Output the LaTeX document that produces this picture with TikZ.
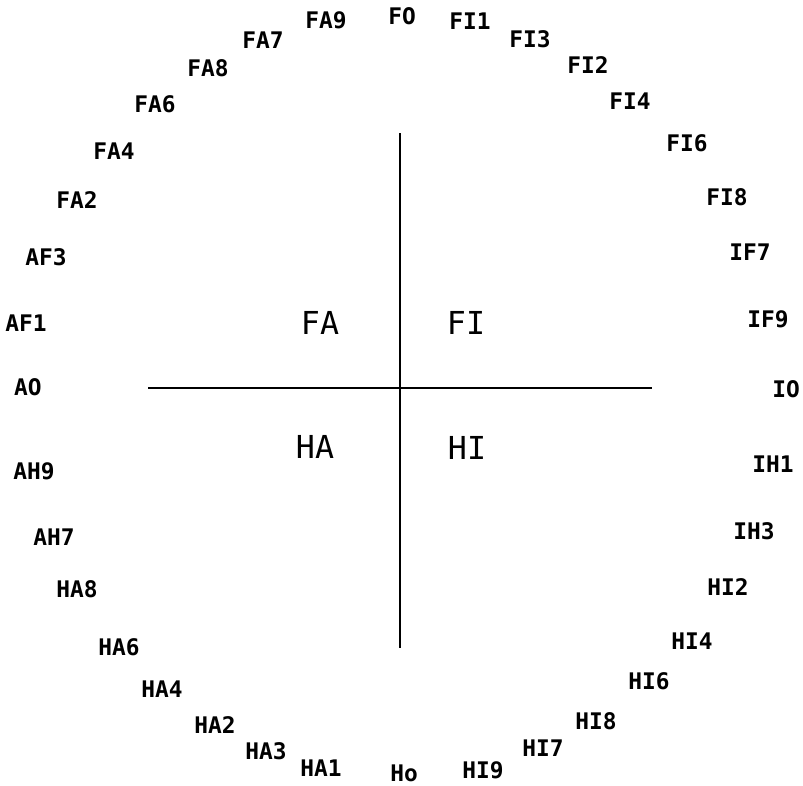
\documentclass[tikz,border=0pt]{standalone}
\usepackage{fontspec}
\setmainfont{DejaVu Sans Mono}
\tikzset{
  ringlabel/.style={
    font=\fontsize{13}{13}\selectfont\bfseries,
    inner sep=0pt
  },
  quadlabel/.style={
    font=\fontsize{18}{18}\selectfont,
    inner sep=0pt
  },
  axisline/.style={line width=1.2pt,draw=black}
}

\begin{document}
\begin{tikzpicture}[x=0.02cm,y=-0.02cm]
\useasboundingbox (0,0) rectangle (803,785);
% axes
\coordinate (top) at (400,133);
\coordinate (bottom) at (400,648);
\coordinate (left) at (148,388);
\coordinate (right) at (652,388);
\draw[axisline] (top) -- (bottom);
\draw[axisline] (left) -- (right);
% quadrants
\node[quadlabel] (fa) at (320,323) {FA};
\node[quadlabel] (fi) at (466,323) {FI};
\node[quadlabel] (ha) at (315,447) {HA};
\node[quadlabel] (hi) at (467,448) {HI};
% ring, top half
\node[ringlabel] (fo) at (402,16) {FO};
\node[ringlabel] (fa9) at (326,20) {FA9};
\node[ringlabel] (fa7) at (263,40) {FA7};
\node[ringlabel] (fa8) at (208,68) {FA8};
\node[ringlabel] (fa6) at (155,104) {FA6};
\node[ringlabel] (fa4) at (114,151) {FA4};
\node[ringlabel] (fa2) at (77,200) {FA2};
\node[ringlabel] (af3) at (46,257) {AF3};
\node[ringlabel] (af1) at (26,323) {AF1};
\node[ringlabel] (ao) at (28,387) {AO};
\node[ringlabel] (fi1) at (470,21) {FI1};
\node[ringlabel] (fi3) at (530,39) {FI3};
\node[ringlabel] (fi2) at (588,65) {FI2};
\node[ringlabel] (fi4) at (630,101) {FI4};
\node[ringlabel] (fi6) at (687,143) {FI6};
\node[ringlabel] (fi8) at (727,197) {FI8};
\node[ringlabel] (if7) at (750,252) {IF7};
\node[ringlabel] (if9) at (768,319) {IF9};
\node[ringlabel] (io) at (786,389) {IO};
% ring, bottom half
\node[ringlabel] (ah9) at (34,471) {AH9};
\node[ringlabel] (ah7) at (54,537) {AH7};
\node[ringlabel] (ha8) at (77,589) {HA8};
\node[ringlabel] (ha6) at (119,647) {HA6};
\node[ringlabel] (ha4) at (162,689) {HA4};
\node[ringlabel] (ha2) at (215,725) {HA2};
\node[ringlabel] (ha3) at (266,751) {HA3};
\node[ringlabel] (ha1) at (321,768) {HA1};
\node[ringlabel] (ho) at (404,773) {Ho};
\node[ringlabel] (hi9) at (483,770) {HI9};
\node[ringlabel] (hi7) at (543,748) {HI7};
\node[ringlabel] (hi8) at (596,721) {HI8};
\node[ringlabel] (hi6) at (649,681) {HI6};
\node[ringlabel] (hi4) at (692,641) {HI4};
\node[ringlabel] (hi2) at (728,587) {HI2};
\node[ringlabel] (ih3) at (754,531) {IH3};
\node[ringlabel] (ih1) at (773,464) {IH1};
\end{tikzpicture}
\end{document}
